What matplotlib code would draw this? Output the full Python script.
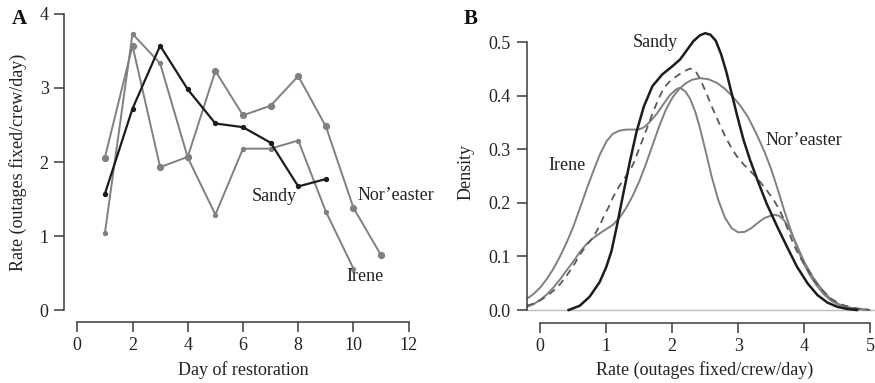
import matplotlib.pyplot as plt

plt.rcParams['font.family'] = ['Liberation Serif', 'DejaVu Serif']

# Panel A: restoration rate by day
days_sandy = [1, 2, 3, 4, 5, 6, 7, 8, 9]
rate_sandy = [1.57, 2.72, 3.57, 2.98, 2.52, 2.47, 2.26, 1.67, 1.77]
days_irene = [1, 2, 3, 4, 5, 6, 7, 8, 9, 10]
rate_irene = [1.04, 3.73, 3.33, 2.06, 1.29, 2.18, 2.18, 2.29, 1.33, 0.56]
days_nor = [1, 2, 3, 4, 5, 6, 7, 8, 9, 10, 11]
rate_nor = [2.06, 3.57, 1.93, 2.07, 3.23, 2.63, 2.76, 3.16, 2.48, 1.38, 0.74]

# Panel B: density curves
sandy_x = [0.43, 0.6, 0.75, 0.9, 1.0, 1.08, 1.16, 1.26, 1.36, 1.46, 1.57, 1.7, 1.85,
           2.0, 2.12, 2.22, 2.32, 2.42, 2.5, 2.58, 2.66, 2.74, 2.82, 2.9, 2.98, 3.08,
           3.18, 3.3, 3.43, 3.59, 3.74, 3.89, 4.05, 4.2, 4.35, 4.5, 4.65, 4.8]
sandy_y = [0.0, 0.008, 0.025, 0.052, 0.08, 0.11, 0.156, 0.218, 0.278, 0.333, 0.38, 0.418, 0.44,
           0.455, 0.468, 0.485, 0.502, 0.513, 0.517, 0.514, 0.503, 0.478, 0.445, 0.405, 0.365, 0.318,
           0.28, 0.24, 0.199, 0.156, 0.118, 0.081, 0.05, 0.028, 0.014, 0.006, 0.002, 0.0]

irene_x = [-0.2, -0.1, 0.0, 0.1, 0.2, 0.3, 0.4, 0.5, 0.61, 0.71, 0.81, 0.91, 1.01, 1.1, 1.2,
           1.31, 1.4, 1.49, 1.57, 1.65, 1.77, 1.87, 1.97, 2.07, 2.12, 2.2, 2.27, 2.35, 2.42,
           2.5, 2.6, 2.7, 2.8, 2.9, 3.0, 3.1, 3.2, 3.3, 3.4, 3.54, 3.62, 3.7, 3.79, 3.9, 4.0,
           4.14, 4.27, 4.39, 4.52, 4.65, 4.8, 4.95]
irene_y = [0.021, 0.03, 0.042, 0.058, 0.077, 0.1, 0.126, 0.155, 0.193, 0.228, 0.261, 0.292, 0.316,
           0.329, 0.335, 0.337, 0.337, 0.337, 0.341, 0.35, 0.367, 0.385, 0.402, 0.413, 0.415, 0.408,
           0.395, 0.37, 0.34, 0.3, 0.248, 0.205, 0.172, 0.153, 0.145, 0.146, 0.153, 0.163, 0.172,
           0.178, 0.176, 0.167, 0.148, 0.118, 0.09, 0.06, 0.038, 0.022, 0.011, 0.005, 0.002, 0.0]

nor_x = [-0.2, -0.1, 0.0, 0.1, 0.2, 0.3, 0.4, 0.51, 0.6, 0.7, 0.8, 0.9, 1.0, 1.1, 1.2, 1.3,
         1.4, 1.5, 1.6, 1.7, 1.8, 1.9, 2.0, 2.1, 2.2, 2.3, 2.42, 2.55, 2.68, 2.8, 2.92, 3.03,
         3.15, 3.28, 3.4, 3.5, 3.6, 3.7, 3.8, 3.9, 4.0, 4.1, 4.2, 4.3, 4.4, 4.5, 4.6, 4.75, 4.95]
nor_y = [0.006, 0.011, 0.019, 0.029, 0.042, 0.057, 0.074, 0.092, 0.108, 0.123, 0.134, 0.143,
         0.151, 0.159, 0.172, 0.19, 0.213, 0.24, 0.272, 0.307, 0.342, 0.373, 0.396, 0.412,
         0.423, 0.43, 0.433, 0.431, 0.424, 0.413, 0.398, 0.382, 0.36, 0.328, 0.295, 0.263,
         0.225, 0.185, 0.148, 0.113, 0.085, 0.062, 0.044, 0.029, 0.018, 0.011, 0.007, 0.003, 0.001]

all_x = [-0.2, -0.1, 0.0, 0.1, 0.2, 0.3, 0.4, 0.5, 0.61, 0.71, 0.81, 0.91, 0.96, 1.04, 1.11,
         1.2, 1.31, 1.4, 1.48, 1.57, 1.65, 1.72, 1.8, 1.87, 1.97, 2.07, 2.17, 2.27, 2.35, 2.42,
         2.5, 2.6, 2.7, 2.8, 2.9, 2.98, 3.08, 3.18, 3.28, 3.38, 3.46, 3.54, 3.62, 3.69, 3.77,
         3.84, 3.94, 4.04, 4.15, 4.29, 4.42, 4.55, 4.7, 4.85, 5.0]
all_y = [0.008, 0.012, 0.018, 0.026, 0.036, 0.048, 0.064, 0.082, 0.105, 0.122, 0.137, 0.16,
         0.174, 0.193, 0.212, 0.232, 0.252, 0.27, 0.295, 0.324, 0.35, 0.373, 0.396, 0.414,
         0.428, 0.437, 0.445, 0.451, 0.447, 0.432, 0.41, 0.38, 0.352, 0.325, 0.302, 0.287,
         0.272, 0.26, 0.247, 0.232, 0.219, 0.205, 0.188, 0.17, 0.145, 0.122, 0.098, 0.078,
         0.055, 0.035, 0.02, 0.011, 0.005, 0.002, 0.0]

W, H = 875, 383
black = '#1c1c1c'
gray = '#808080'
axis_col = '#3a3a3a'
text_col = '#222222'

fig = plt.figure(figsize=(W / 100, H / 100), dpi=100)

# ---- Panel A
axA = fig.add_axes([64 / W, 61 / H, 358 / W, 320 / H])
axA.plot(days_irene, rate_irene, color=gray, lw=1.4, marker='o', ms=2.8, mfc=gray, mec=gray)
axA.plot(days_nor, rate_nor, color=gray, lw=1.4, marker='o', ms=4.2, mfc=gray, mec=gray)
axA.plot(days_sandy, rate_sandy, color=black, lw=1.6, marker='o', ms=2.8, mfc=black, mec=black)
axA.set_xlim(-0.48, 12.48)
axA.set_ylim(-0.16, 4.16)
axA.set_xticks(range(0, 13, 2))
axA.set_yticks(range(0, 5))
axA.spines['left'].set_bounds(0, 4)
axA.spines['bottom'].set_bounds(0, 12)

axA.text(7.13, 1.54, 'Sandy', fontsize=13, color=text_col, ha='center', va='center')
axA.text(11.55, 1.55, 'Nor\u2019easter', fontsize=13, color=text_col, ha='center', va='center')
axA.text(10.42, 0.45, 'Irene', fontsize=13, color=text_col, ha='center', va='center')

# ---- Panel B
axB = fig.add_axes([527 / W, 60.3 / H, 356.4 / W, 300.6 / H])
axB.axhline(0, color='#bbbbbb', lw=1)
axB.plot(irene_x, irene_y, color=gray, lw=1.4)
axB.plot(nor_x, nor_y, color=gray, lw=1.4)
axB.plot(all_x, all_y, color='#5a5a5a', lw=1.3, ls=(0, (4, 3)))
axB.plot(sandy_x, sandy_y, color=black, lw=1.8)
axB.set_xlim(-0.2, 5.2)
axB.set_ylim(-0.0237, 0.5377)
axB.set_xticks(range(0, 6))
axB.set_yticks([0.0, 0.1, 0.2, 0.3, 0.4, 0.5])
axB.set_yticklabels(['0.0', '0.1', '0.2', '0.3', '0.4', '0.5'])
axB.spines['left'].set_bounds(0, 0.5)
axB.spines['bottom'].set_bounds(0, 5)

axB.text(1.75, 0.4995, 'Sandy', fontsize=13, color=text_col, ha='center', va='center')
axB.text(0.41, 0.269, 'Irene', fontsize=13, color=text_col, ha='center', va='center')
axB.text(4.0, 0.317, 'Nor\u2019easter', fontsize=13, color=text_col, ha='center', va='center')

for ax, ypad in [(axA, 4), (axB, 5)]:
    for side in ['top', 'right']:
        ax.spines[side].set_visible(False)
    for side in ['left', 'bottom']:
        ax.spines[side].set_color(axis_col)
        ax.spines[side].set_linewidth(1.1)
    ax.tick_params(axis='both', direction='out', length=7, width=1.1, color=axis_col,
                   labelsize=13, labelcolor=text_col)
    ax.tick_params(axis='x', pad=4)
    ax.tick_params(axis='y', pad=ypad)
    ax.patch.set_visible(False)

# axis titles and panel letters
fig.text(18.5 / W, 1 - 162 / H, 'Rate (outages fixed/crew/day)', rotation=90,
         fontsize=13, color=text_col, ha='center', va='center')
fig.text(243 / W, 1 - 370 / H, 'Day of restoration', fontsize=13, color=text_col,
         ha='center', va='center')
fig.text(466 / W, 1 - 172 / H, 'Density', rotation=90, fontsize=13, color=text_col,
         ha='center', va='center')
fig.text(705 / W, 1 - 370 / H, 'Rate (outages fixed/crew/day)', fontsize=13, color=text_col,
         ha='center', va='center')
fig.text(19.5 / W, 1 - 19.5 / H, 'A', fontsize=15, fontweight='bold', color='#111111',
         ha='center', va='center')
fig.text(471 / W, 1 - 18.5 / H, 'B', fontsize=15, fontweight='bold', color='#111111',
         ha='center', va='center')

fig.savefig('out.png', dpi=100)
